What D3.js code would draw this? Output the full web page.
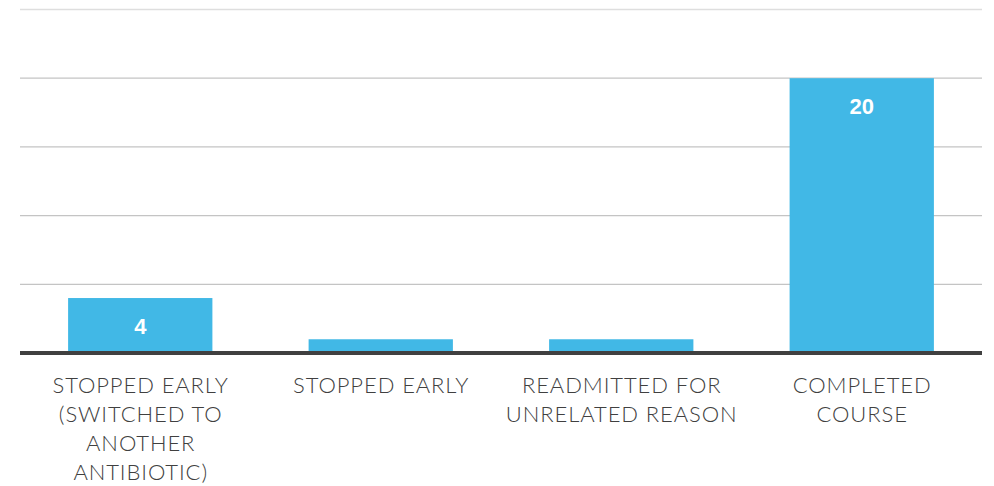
<!DOCTYPE html>
<html>
<head>
<meta charset="utf-8">
<script src="https://cdn.jsdelivr.net/npm/d3@7"></script>
<style>
  html, body { margin: 0; padding: 0; background: #fff; }
  svg { display: block; }
</style>
</head>
<body>
<svg id="chart" width="994" height="486"></svg>
<script>
// Antibiotic course outcomes
const categories = [
  ["STOPPED EARLY", "(SWITCHED TO", "ANOTHER", "ANTIBIOTIC)"],
  ["STOPPED EARLY"],
  ["READMITTED FOR", "UNRELATED REASON"],
  ["COMPLETED", "COURSE"]
];
const values = [4, 1, 1, 20];
const showLabel = [true, false, false, true];
const gridTicks = [0, 5, 10, 15, 20, 25];

(function () {
  const svg = d3.select("#chart");
  const plotLeft = 20, plotRight = 982, plotTop = 9.5, plotBase = 353;

  const x = d3.scaleBand()
    .domain(d3.range(values.length))
    .range([plotLeft, plotRight])
    .paddingInner(0.4)
    .paddingOuter(0.2);

  const y = d3.scaleLinear().domain([0, 25]).range([plotBase, plotTop]);

  // horizontal gridlines
  svg.append("g")
    .selectAll("line")
    .data(gridTicks.filter(d => d > 0))
    .join("line")
    .attr("x1", plotLeft).attr("x2", plotRight)
    .attr("y1", d => y(d)).attr("y2", d => y(d))
    .attr("stroke", d => d === 25 ? "#dedede" : "#c4c4c4")
    .attr("stroke-width", 1.3);

  // bars
  svg.append("g")
    .selectAll("rect")
    .data(values)
    .join("rect")
    .attr("x", (d, i) => x(i))
    .attr("width", x.bandwidth())
    .attr("y", d => y(d))
    .attr("height", d => plotBase - y(d))
    .attr("fill", "#41b8e6");

  // value labels inside bars
  svg.append("g")
    .selectAll("text")
    .data(values.map((v, i) => ({ v, i })).filter(d => showLabel[d.i]))
    .join("text")
    .attr("x", d => x(d.i) + x.bandwidth() / 2)
    .attr("y", d => y(d.v) + 28)
    .attr("text-anchor", "middle")
    .attr("dominant-baseline", "central")
    .attr("fill", "#fff")
    .attr("font-family", "'Liberation Sans', Arial, sans-serif")
    .attr("font-weight", "bold")
    .attr("font-size", 22)
    .text(d => d.v);

  // baseline axis
  svg.append("line")
    .attr("x1", plotLeft).attr("x2", plotRight)
    .attr("y1", y(0)).attr("y2", y(0))
    .attr("stroke", "#404040")
    .attr("stroke-width", 4);

  // category labels
  const lab = svg.append("g")
    .selectAll("text")
    .data(categories)
    .join("text")
    .attr("text-anchor", "middle")
    .attr("fill", "#404040")
    .attr("font-family", "Lato, 'Open Sans', sans-serif")
    .attr("font-weight", 300)
    .attr("font-size", 22)
    .attr("letter-spacing", 0.9);

  lab.selectAll("tspan")
    .data((d, i) => d.map(t => ({ t, i })))
    .join("tspan")
    .attr("x", d => x(d.i) + x.bandwidth() / 2 + 0.45)
    .attr("y", (d, j) => 393 + j * 29)
    .text(d => d.t);
})();
</script>
</body>
</html>
